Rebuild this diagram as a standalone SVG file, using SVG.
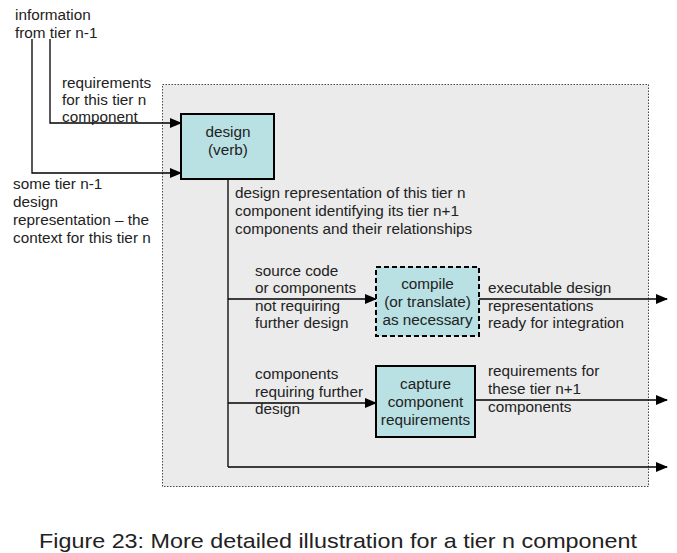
<svg xmlns="http://www.w3.org/2000/svg" width="677" height="553" viewBox="0 0 677 553">
<style>
text{font-family:"Liberation Sans",Arial,sans-serif;font-size:15.3px;fill:#222}
.c{text-anchor:middle}
.ln{stroke:#000;stroke-width:1.3;fill:none}
.box{fill:#b9e0e3;stroke:#000;stroke-width:2}
</style>
<defs>
<marker id="ah" markerWidth="12" markerHeight="10" refX="11" refY="5" orient="auto" markerUnits="userSpaceOnUse">
<path d="M0,0 L12,5 L0,10 Z" fill="#000"/>
</marker>
</defs>
<rect width="677" height="553" fill="#fff"/>
<g id="region">
<rect x="162.5" y="84.5" width="486" height="402" fill="#ebebeb" stroke="#444" stroke-width="1" stroke-dasharray="1.5,1.5"/>
</g>
<g id="connectors">
<polyline class="ln" points="50,39 50,123 181,123" marker-end="url(#ah)"/>
<polyline class="ln" points="32,39 32,173 181,173" marker-end="url(#ah)"/>
<line class="ln" x1="228" y1="179" x2="228" y2="467"/>
<line class="ln" x1="228" y1="299" x2="376" y2="299" marker-end="url(#ah)"/>
<line class="ln" x1="479" y1="299" x2="667" y2="299" marker-end="url(#ah)"/>
<line class="ln" x1="228" y1="403" x2="376" y2="403" marker-end="url(#ah)"/>
<line class="ln" x1="475" y1="400" x2="667" y2="400" marker-end="url(#ah)"/>
<line class="ln" x1="228" y1="467" x2="667" y2="467" marker-end="url(#ah)"/>
</g>
<g id="design">
<rect class="box" x="181" y="114" width="93" height="65"/>
<text class="c" x="228" y="137">design</text>
<text class="c" x="228" y="155">(verb)</text>
</g>
<g id="compile">
<rect class="box" x="376" y="267" width="103" height="69" stroke-dasharray="5,3"/>
<text class="c" x="427.5" y="289">compile</text>
<text class="c" x="427.5" y="307">(or translate)</text>
<text class="c" x="427.5" y="325">as necessary</text>
</g>
<g id="capture">
<rect class="box" x="376" y="366" width="99" height="71"/>
<text class="c" x="425.5" y="389">capture</text>
<text class="c" x="425.5" y="407">component</text>
<text class="c" x="425.5" y="425">requirements</text>
</g>
<g id="labels">
<text x="15" y="20">information</text>
<text x="15" y="38">from tier n-1</text>
<text x="62" y="88">requirements</text>
<text x="62" y="105">for this tier n</text>
<text x="62" y="122">component</text>
<text x="13" y="189">some tier n-1</text>
<text x="13" y="207">design</text>
<text x="13" y="225">representation – the</text>
<text x="13" y="243">context for this tier n</text>
<text x="235" y="198">design representation of this tier n</text>
<text x="235" y="216">component identifying its tier n+1</text>
<text x="235" y="234">components and their relationships</text>
<text x="255" y="276">source code</text>
<text x="255" y="293">or components</text>
<text x="255" y="311">not requiring</text>
<text x="255" y="328">further design</text>
<text x="488" y="293">executable design</text>
<text x="488" y="311">representations</text>
<text x="488" y="328">ready for integration</text>
<text x="255" y="379">components</text>
<text x="255" y="397">requiring further</text>
<text x="255" y="414">design</text>
<text x="488" y="376">requirements for</text>
<text x="488" y="394">these tier n+1</text>
<text x="488" y="412">components</text>
<text class="c" x="338" y="548" style="font-size:21px" textLength="598" lengthAdjust="spacingAndGlyphs">Figure 23: More detailed illustration for a tier n component</text>
</g>
</svg>
